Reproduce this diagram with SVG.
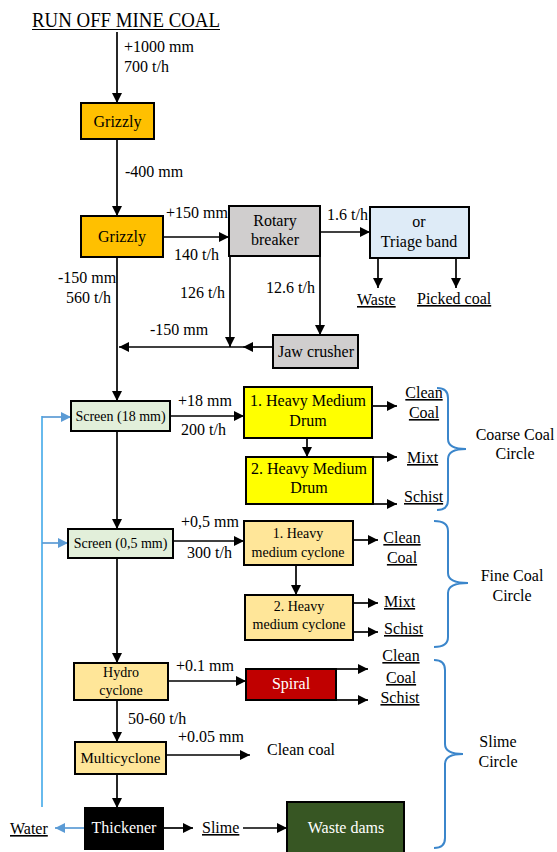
<svg xmlns="http://www.w3.org/2000/svg" width="557" height="852" viewBox="0 0 557 852" font-family="'Liberation Serif', serif">
<defs>
<marker id="ah" viewBox="0 0 10 10" refX="10" refY="5" markerWidth="10" markerHeight="10" markerUnits="userSpaceOnUse" orient="auto"><path d="M0,0 L10,5 L0,10 z" fill="#000"/></marker>
<marker id="ahb" viewBox="0 0 10 10" refX="10" refY="5" markerWidth="10" markerHeight="10" markerUnits="userSpaceOnUse" orient="auto"><path d="M0,0 L10,5 L0,10 z" fill="#5B9BD5"/></marker>
</defs>
<style>
text{font-family:'Liberation Serif','DejaVu Serif',serif;font-size:16px;fill:#000}
.s14{font-size:14px}
.m{text-anchor:middle}
.u{text-decoration:underline}
.w{fill:#fff}
.box{stroke:#000;stroke-width:2}
.c line{stroke:#000;stroke-width:1.7;fill:none}
.c .ar{marker-end:url(#ah)}
.c .bl{stroke:#4DAEEA;stroke-width:1.7}
.c .blA{stroke:#5B9BD5;stroke-width:1.7;marker-end:url(#ahb)}
.br{stroke:#3B86CB;stroke-width:2;fill:none}
</style>
<rect width="557" height="852" fill="#fff"/>

<text x="32" y="27" style="font-size:21px" textLength="188" lengthAdjust="spacingAndGlyphs">RUN OFF MINE COAL</text>
<line x1="32" y1="29.5" x2="220" y2="29.5" stroke="#000" stroke-width="1"/>

<g id="connectors" class="c">
<line class="ar" x1="117" y1="32" x2="117" y2="103"/>
<line class="ar" x1="117" y1="139" x2="117" y2="216"/>
<line class="ar" x1="163" y1="237" x2="229" y2="237"/>
<line class="ar" x1="320" y1="232" x2="370" y2="232"/>
<line class="ar" x1="378" y1="258" x2="378" y2="288"/>
<line class="ar" x1="456" y1="258" x2="456" y2="288"/>
<line class="ar" x1="230" y1="256" x2="230" y2="347"/>
<line class="ar" x1="320" y1="256" x2="320" y2="335"/>
<line class="ar" x1="273" y1="347" x2="243" y2="347"/>
<line class="ar" x1="243" y1="347" x2="119" y2="347"/>
<line class="ar" x1="117" y1="257" x2="117" y2="401"/>
<line class="ar" x1="170" y1="416" x2="244" y2="416"/>
<line class="ar" x1="372" y1="406" x2="397" y2="406"/>
<line class="ar" x1="307" y1="438" x2="307" y2="457"/>
<line class="ar" x1="373" y1="457" x2="397" y2="457"/>
<line class="ar" x1="373" y1="504" x2="397" y2="504"/>
<line class="ar" x1="117" y1="431" x2="117" y2="529"/>
<line class="ar" x1="173" y1="541" x2="244" y2="541"/>
<line class="ar" x1="353" y1="540" x2="378" y2="540"/>
<line class="ar" x1="296" y1="565" x2="296" y2="595"/>
<line class="ar" x1="353" y1="603" x2="378" y2="603"/>
<line class="ar" x1="353" y1="632" x2="378" y2="632"/>
<line class="ar" x1="117" y1="558" x2="117" y2="663"/>
<line class="ar" x1="168" y1="681" x2="246" y2="681"/>
<line class="ar" x1="336" y1="669" x2="368" y2="669"/>
<line class="ar" x1="336" y1="700" x2="368" y2="700"/>
<line class="ar" x1="117" y1="700" x2="117" y2="742"/>
<line class="ar" x1="166" y1="755" x2="250" y2="755"/>
<line class="ar" x1="117" y1="774" x2="117" y2="808"/>
<line class="ar" x1="163" y1="828" x2="193" y2="828"/>
<line class="ar" x1="243" y1="828" x2="287" y2="828"/>
<line class="bl" x1="42" y1="807" x2="42" y2="416"/>
<line class="blA" x1="42" y1="417" x2="71" y2="417"/>
<line class="blA" x1="42" y1="543" x2="68" y2="543"/>
<line class="blA" x1="85" y1="828" x2="55" y2="828"/>
</g>

<g id="grizzly1"><rect class="box" x="81" y="103" width="73" height="36" fill="#FFC000"/><text class="m" x="117.5" y="127">Grizzly</text></g>
<g id="grizzly2"><rect class="box" x="81" y="216" width="82" height="41" fill="#FFC000"/><text class="m" x="122" y="242">Grizzly</text></g>
<g id="rotary"><rect class="box" x="229" y="206" width="91" height="50" fill="#D0CECE"/><text class="m" x="275" y="226">Rotary</text><text class="m" x="275" y="245">breaker</text></g>
<g id="triage"><rect class="box" x="370" y="207" width="99" height="51" fill="#DEEBF7"/><text class="m" x="419" y="227">or</text><text class="m" x="419" y="247">Triage band</text></g>
<g id="jaw"><rect class="box" x="273" y="335" width="85" height="33" fill="#D0CECE"/><text class="m" x="316" y="357">Jaw crusher</text></g>
<g id="screen18"><rect class="box" x="71" y="401" width="99" height="30" fill="#E2EFDA"/><text class="m s14" x="120.5" y="421">Screen (18 mm)</text></g>
<g id="hmd1"><rect class="box" x="244" y="387" width="128" height="51" fill="#FFFF00"/><text class="m" x="308" y="406">1. Heavy Medium</text><text class="m" x="308" y="426">Drum</text></g>
<g id="hmd2"><rect class="box" x="246" y="457" width="127" height="47" fill="#FFFF00"/><text class="m" x="309" y="474">2. Heavy Medium</text><text class="m" x="309" y="493">Drum</text></g>
<g id="screen05"><rect class="box" x="68" y="529" width="105" height="29" fill="#E2EFDA"/><text class="m s14" x="120.5" y="548">Screen (0,5 mm)</text></g>
<g id="hmc1"><rect class="box" x="244" y="521" width="109" height="44" fill="#FFE699"/><text class="m s14" x="298" y="538">1. Heavy</text><text class="m s14" x="298" y="557">medium cyclone</text></g>
<g id="hmc2"><rect class="box" x="245" y="595" width="108" height="45" fill="#FFE699"/><text class="m s14" x="299" y="611">2. Heavy</text><text class="m s14" x="299" y="629">medium cyclone</text></g>
<g id="hydro"><rect class="box" x="74" y="663" width="94" height="37" fill="#FFE699"/><text class="m s14" x="121" y="677">Hydro</text><text class="m s14" x="121" y="695">cyclone</text></g>
<g id="spiral"><rect class="box" x="246" y="669" width="90" height="31" fill="#C00000"/><text class="m w" x="291" y="689">Spiral</text></g>
<g id="multicyclone"><rect class="box" x="75" y="742" width="91" height="32" fill="#FFE699"/><text class="m" x="120.5" y="763" style="font-size:15px">Multicyclone</text></g>
<g id="thickener"><rect class="box" x="85" y="808" width="78" height="41" fill="#000"/><text class="m w" x="124" y="833">Thickener</text></g>
<g id="wastedams"><rect class="box" x="287" y="802" width="117" height="52" fill="#375623"/><text class="m w" x="346" y="833">Waste dams</text></g>

<g id="labels">
<text x="124" y="52">+1000 mm</text>
<text x="124" y="72">700 t/h</text>
<text x="125" y="177">-400 mm</text>
<text x="166" y="218">+150 mm</text>
<text x="174" y="260">140 t/h</text>
<text x="58" y="283">-150 mm</text>
<text x="66" y="303">560 t/h</text>
<text x="180" y="298">126 t/h</text>
<text x="266" y="293">12.6 t/h</text>
<text x="150" y="335">-150 mm</text>
<text x="327" y="220">1.6 t/h</text>
<text class="u" x="357" y="305">Waste</text>
<text class="u" x="417" y="304">Picked coal</text>
<text x="178" y="406">+18 mm</text>
<text x="181" y="435">200 t/h</text>
<text class="u m" x="424" y="398">Clean</text>
<text class="u m" x="424" y="418">Coal</text>
<text class="u" x="407" y="463">Mixt</text>
<text class="u" x="404" y="502">Schist</text>
<text class="m" x="515" y="440">Coarse Coal</text>
<text class="m" x="515" y="459">Circle</text>
<text x="181" y="527">+0,5 mm</text>
<text x="187" y="558">300 t/h</text>
<text class="u m" x="402" y="543">Clean</text>
<text class="u m" x="402" y="563">Coal</text>
<text class="u" x="384" y="607">Mixt</text>
<text class="u" x="384" y="634">Schist</text>
<text class="m" x="512" y="581">Fine Coal</text>
<text class="m" x="512" y="601">Circle</text>
<text x="176" y="671">+0.1 mm</text>
<text class="u m" x="401" y="661">Clean</text>
<text class="u m" x="401" y="683">Coal</text>
<text class="u m" x="400" y="703">Schist</text>
<text x="128" y="724">50-60 t/h</text>
<text x="178" y="742">+0.05 mm</text>
<text x="267" y="755">Clean coal</text>
<text class="m" x="498" y="747">Slime</text>
<text class="m" x="498" y="767">Circle</text>
<text class="u" x="10" y="834">Water</text>
<text class="u" x="202" y="833">Slime</text>
</g>

<g id="braces">
<path class="br" d="M437,388 Q448,388 448,398 L448,439 Q448,449 466,449 Q448,449 448,459 L448,500 Q448,510 437,510"/>
<path class="br" d="M434,521 Q448,521 448,531 L448,573 Q448,583 468,583 Q448,583 448,593 L448,637 Q448,647 434,647"/>
<path class="br" d="M434,660 Q445,660 445,670 L445,744 Q445,754 463,754 Q445,754 445,764 L445,838 Q445,848 434,848"/>
</g>
</svg>
